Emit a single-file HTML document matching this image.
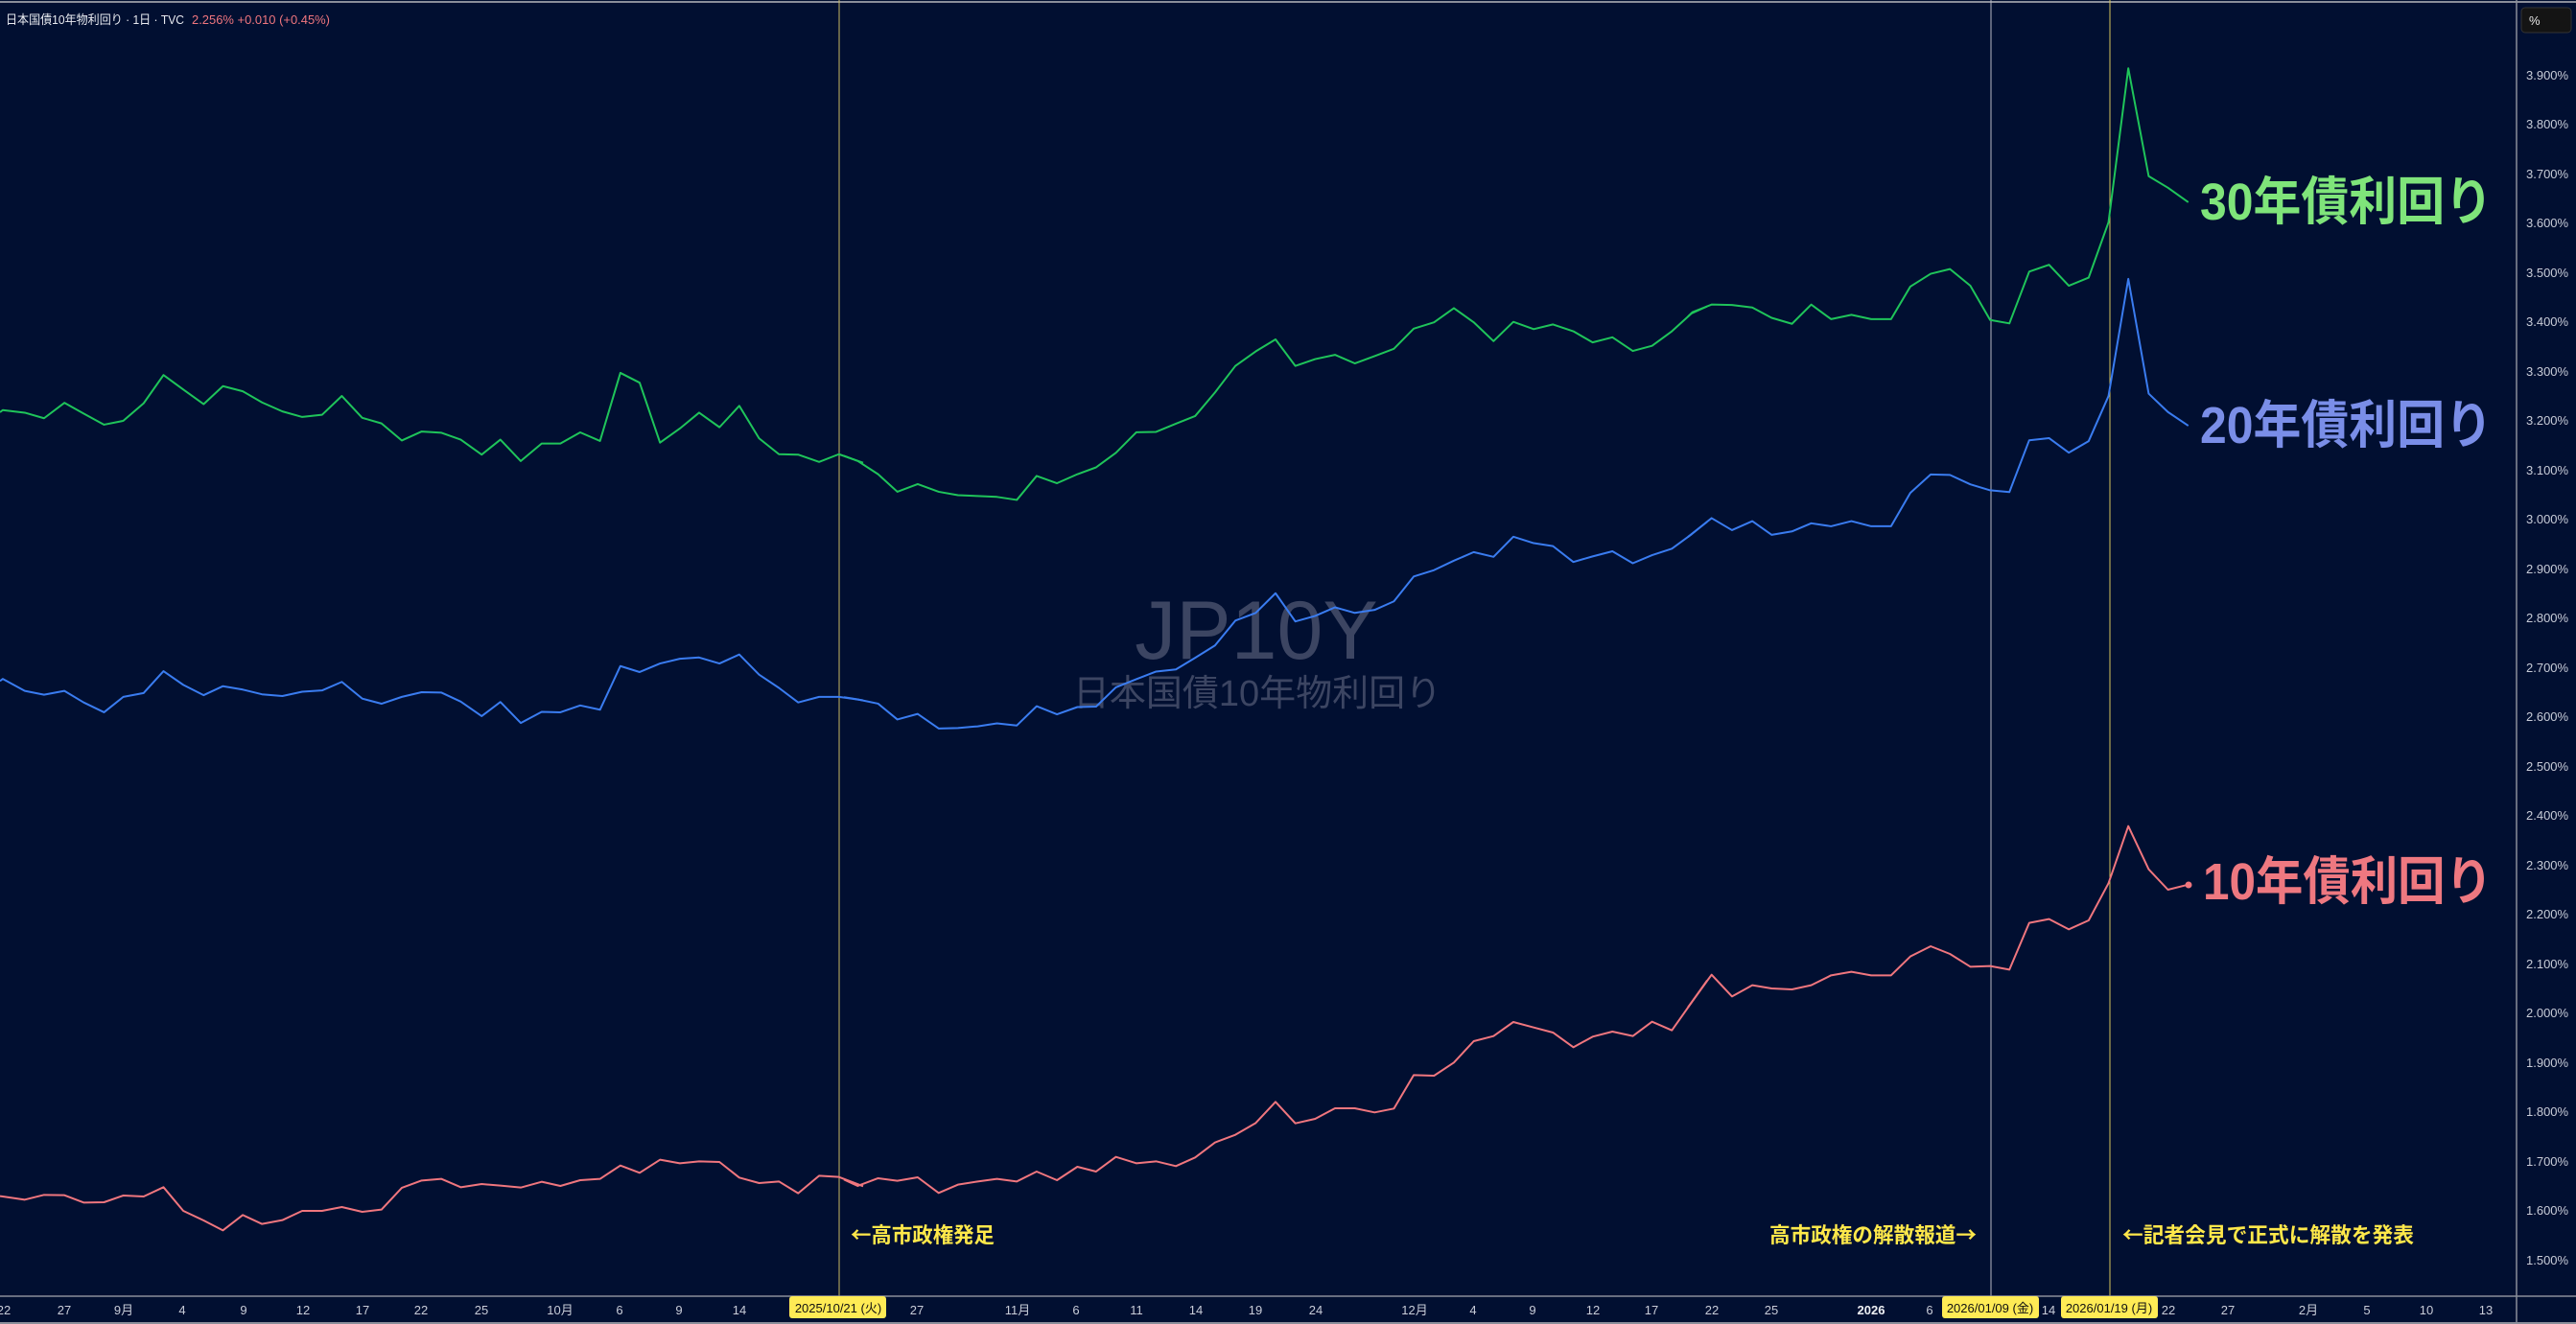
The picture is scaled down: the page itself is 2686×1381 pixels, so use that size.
<!DOCTYPE html>
<html><head><meta charset="utf-8"><style>
html,body{margin:0;padding:0;background:#010f31;}
svg{display:block;}
text{font-family:"Liberation Sans","Noto Sans CJK JP",sans-serif;}
.cj{font-family:"Noto Sans CJK JP",sans-serif;}
</style></head><body>
<svg width="2686" height="1381" viewBox="0 0 2686 1381" xmlns="http://www.w3.org/2000/svg">
<rect x="0" y="0" width="2686" height="1381" fill="#010f31"/>
<line x1="0" y1="2" x2="2686" y2="2" stroke="#8a8e9a" stroke-width="2"/>
<!-- watermark -->
<text x="1310" y="687" font-size="86" fill="#3c4562" text-anchor="middle">JP10Y</text>
<text x="1311" y="736" font-size="38" fill="#3c4562" text-anchor="middle">日本国債10年物利回り</text>
<!-- vertical markers -->
<line x1="875" y1="0" x2="875" y2="1352" stroke="#c9b862" stroke-width="1"/>
<line x1="2076" y1="0" x2="2076" y2="1352" stroke="#b8b8c4" stroke-width="1"/>
<line x1="2200" y1="0" x2="2200" y2="1352" stroke="#d8c45a" stroke-width="1"/>
<g fill="none" stroke-width="2" stroke-linejoin="round">
<g transform="translate(0,380) scale(0.57398,0.44643)" stroke="#1fc45a"><polyline vector-effect="non-scaling-stroke" points="0,112 5,107 45,113 80,126 117,90 152,115 189,141 224,132 261,91 297,25 333,59 370,93 405,51 441,63 476,89 513,110 549,123 585,118 621,74 658,125 693,138 730,178 766,157 802,160 837,176 875,211 909,176 946,226 984,185 1018,185 1054,159 1090,179 1127,20 1162,43 1199,183 1235,150 1270,113 1307,147 1343,97 1379,173 1415,210 1450,211 1488,228 1524,210 1568,230"/></g>
<g transform="translate(880,200) scale(0.57398,0.44643)" stroke="#1fc45a"><polyline vector-effect="non-scaling-stroke" points="0,617 25,629 62,660 97,701 134,683 172,701 207,709 243,711 278,713 314,720 350,664 387,681 424,660 458,644 494,610 531,562 567,561 603,542 638,524 674,469 711,407 748,373 784,345 820,407 856,391 892,381 928,401 964,384 999,367 1035,320 1072,305 1108,272 1144,305 1180,349 1216,304 1253,321 1288,310 1325,326 1360,352 1396,340 1433,372 1468,360 1504,326 1540,284 1568,268"/></g>
<g transform="translate(1760,40) scale(0.57398,0.44643)" stroke="#1fc45a"><polyline vector-effect="non-scaling-stroke" points="0,650 8,640 43,622 80,623 117,629 152,653 189,667 224,622 260,656 297,646 333,656 369,656 404,580 441,550 476,539 513,578 549,658 584,666 620,545 656,529 692,578 728,559 764,430 800,70 837,322 872,349 909,383"/></g>
<g transform="translate(0,380) scale(0.57398,0.44643)" stroke="#3a7cf0"><polyline vector-effect="non-scaling-stroke" points="0,740 5,735 45,763 80,772 117,763 152,790 189,813 224,777 261,768 297,717 333,749 370,773 405,752 441,760 476,771 513,775 549,765 585,762 621,742 658,781 693,793 730,777 766,766 802,767 837,788 875,822 909,789 946,838 984,812 1018,813 1054,797 1090,807 1127,705 1162,719 1199,699 1235,688 1270,685 1307,699 1343,678 1379,725 1415,756 1450,790 1488,777 1524,777 1568,785"/></g>
<g transform="translate(880,200) scale(0.57398,0.44643)" stroke="#3a7cf0"><polyline vector-effect="non-scaling-stroke" points="0,1181 25,1186 62,1196 97,1233 134,1220 172,1254 207,1253 243,1249 278,1242 314,1247 350,1202 387,1221 424,1204 458,1203 494,1158 531,1139 567,1121 603,1116 638,1089 674,1060 711,1002 748,984 784,938 820,1004 856,991 892,971 928,984 964,977 999,957 1035,899 1072,884 1108,862 1144,842 1180,853 1216,806 1253,821 1288,828 1325,865 1360,852 1396,840 1433,868 1468,849 1504,834 1540,800 1568,771"/></g>
<g transform="translate(1760,40) scale(0.57398,0.44643)" stroke="#3a7cf0"><polyline vector-effect="non-scaling-stroke" points="0,1165 43,1121 80,1149 117,1128 152,1160 189,1152 224,1133 260,1140 297,1128 333,1140 369,1140 404,1062 441,1019 476,1020 513,1042 549,1056 584,1060 620,939 656,934 692,968 728,941 764,836 800,562 837,830 872,873 909,905"/></g>
<g transform="translate(0,800) scale(0.57398,0.33333)" stroke="#f0767e"><polyline vector-effect="non-scaling-stroke" points="0,1343 5,1344 45,1354 80,1339 117,1340 152,1363 189,1362 224,1341 261,1344 297,1315 333,1389 370,1419 405,1450 441,1402 476,1430 513,1418 549,1389 585,1389 621,1377 658,1392 693,1385 730,1317 766,1294 802,1289 837,1315 875,1305 909,1310 946,1316 984,1298 1018,1311 1054,1293 1090,1289 1127,1247 1162,1270 1199,1229 1235,1240 1270,1234 1307,1236 1343,1285 1379,1302 1415,1297 1450,1334 1488,1279 1524,1283 1568,1312"/></g>
<g transform="translate(880,800) scale(0.57398,0.33333)" stroke="#f0767e"><polyline vector-effect="non-scaling-stroke" points="0,1291 25,1311 62,1287 97,1295 134,1284 172,1333 207,1307 243,1297 278,1289 314,1297 350,1266 387,1293 424,1251 458,1266 494,1220 531,1240 567,1234 603,1249 638,1222 674,1175 711,1151 748,1114 784,1048 820,1115 856,1101 892,1068 928,1068 964,1081 999,1069 1035,964 1072,966 1108,925 1144,858 1180,842 1216,798 1253,815 1288,831 1325,877 1360,844 1396,828 1433,842 1468,797 1504,824 1568,668"/></g>
<g transform="translate(1760,800) scale(0.57398,0.33333)" stroke="#f0767e"><polyline vector-effect="non-scaling-stroke" points="0,752 43,650 80,718 117,683 152,693 189,696 224,683 260,652 297,641 333,652 369,652 404,593 441,561 476,585 513,625 549,623 584,634 620,488 656,476 692,508 728,480 764,364 800,185 837,320 872,384 909,368"/></g>
</g>
<circle cx="2282" cy="923" r="3.5" fill="#f0767e"/>
<text x="2294" y="229" font-size="54" font-weight="bold" fill="#7fe47a" textLength="305" lengthAdjust="spacingAndGlyphs">30年債利回り</text>
<text x="2294" y="462" font-size="54" font-weight="bold" fill="#7a8ee8" textLength="305" lengthAdjust="spacingAndGlyphs">20年債利回り</text>
<text x="2297" y="938" font-size="54" font-weight="bold" fill="#ee7880" textLength="302" lengthAdjust="spacingAndGlyphs">10年債利回り</text>
<g font-size="22" font-weight="bold" fill="#ffe84a" class="cj">
<text x="887" y="1296" class="cj" textLength="150" lengthAdjust="spacingAndGlyphs">←高市政権発足</text>
<text x="1845" y="1296" class="cj" textLength="216" lengthAdjust="spacingAndGlyphs">高市政権の解散報道→</text>
<text x="2213" y="1296" class="cj" textLength="304" lengthAdjust="spacingAndGlyphs">←記者会見で正式に解散を発表</text>
</g>
<text x="6" y="25" font-size="13" fill="#e8eaf0" textLength="186" lengthAdjust="spacingAndGlyphs">日本国債10年物利回り · 1日 · TVC</text>
<text x="200" y="25" font-size="13" fill="#f0767e" textLength="144" lengthAdjust="spacingAndGlyphs">2.256%  +0.010 (+0.45%)</text>
<line x1="2624" y1="0" x2="2624" y2="1381" stroke="#8a8e9a" stroke-width="1.5"/>
<rect x="2629" y="8" width="52" height="26" rx="4" fill="#141414" stroke="#333" stroke-width="1"/>
<text x="2637" y="26" font-size="13" fill="#e8e8e8">%</text>
<g font-size="13" fill="#c8ccd8">
<text x="2634" y="83">3.900%</text><text x="2634" y="134">3.800%</text><text x="2634" y="186">3.700%</text><text x="2634" y="237">3.600%</text><text x="2634" y="289">3.500%</text><text x="2634" y="340">3.400%</text><text x="2634" y="392">3.300%</text><text x="2634" y="443">3.200%</text><text x="2634" y="495">3.100%</text><text x="2634" y="546">3.000%</text><text x="2634" y="598">2.900%</text><text x="2634" y="649">2.800%</text><text x="2634" y="701">2.700%</text><text x="2634" y="752">2.600%</text><text x="2634" y="804">2.500%</text><text x="2634" y="855">2.400%</text><text x="2634" y="907">2.300%</text><text x="2634" y="958">2.200%</text><text x="2634" y="1010">2.100%</text><text x="2634" y="1061">2.000%</text><text x="2634" y="1113">1.900%</text><text x="2634" y="1164">1.800%</text><text x="2634" y="1216">1.700%</text><text x="2634" y="1267">1.600%</text><text x="2634" y="1319">1.500%</text>
</g>
<line x1="0" y1="1352" x2="2686" y2="1352" stroke="#8a8e9a" stroke-width="1.5"/>
<line x1="0" y1="1380" x2="2686" y2="1380" stroke="#8a8e9a" stroke-width="2"/>
<g font-size="13" fill="#c8ccd8" text-anchor="middle">
<text x="4" y="1371">22</text><text x="67" y="1371">27</text><text x="129" y="1371">9月</text><text x="190" y="1371">4</text><text x="254" y="1371">9</text><text x="316" y="1371">12</text><text x="378" y="1371">17</text><text x="439" y="1371">22</text><text x="502" y="1371">25</text><text x="584" y="1371">10月</text><text x="646" y="1371">6</text><text x="708" y="1371">9</text><text x="771" y="1371">14</text><text x="956" y="1371">27</text><text x="1061" y="1371">11月</text><text x="1122" y="1371">6</text><text x="1185" y="1371">11</text><text x="1247" y="1371">14</text><text x="1309" y="1371">19</text><text x="1372" y="1371">24</text>
<text x="1475" y="1371">12月</text><text x="1536" y="1371">4</text><text x="1598" y="1371">9</text><text x="1661" y="1371">12</text><text x="1722" y="1371">17</text><text x="1785" y="1371">22</text><text x="1847" y="1371">25</text><text x="1951" y="1371" font-weight="bold" fill="#eef0f4">2026</text><text x="2012" y="1371">6</text><text x="2136" y="1371">14</text><text x="2261" y="1371">22</text><text x="2323" y="1371">27</text><text x="2407" y="1371">2月</text><text x="2468" y="1371">5</text><text x="2530" y="1371">10</text><text x="2592" y="1371">13</text>
</g>
<g font-size="13" fill="#111" text-anchor="middle">
<rect x="823" y="1352" width="101" height="23" rx="3" fill="#ffeb55"/><text x="874" y="1369">2025/10/21 (火)</text>
<rect x="2025" y="1352" width="101" height="23" rx="3" fill="#ffeb55"/><text x="2075" y="1369">2026/01/09 (金)</text>
<rect x="2149" y="1352" width="101" height="23" rx="3" fill="#ffeb55"/><text x="2199" y="1369">2026/01/19 (月)</text>
</g>
</svg>
</body></html>
